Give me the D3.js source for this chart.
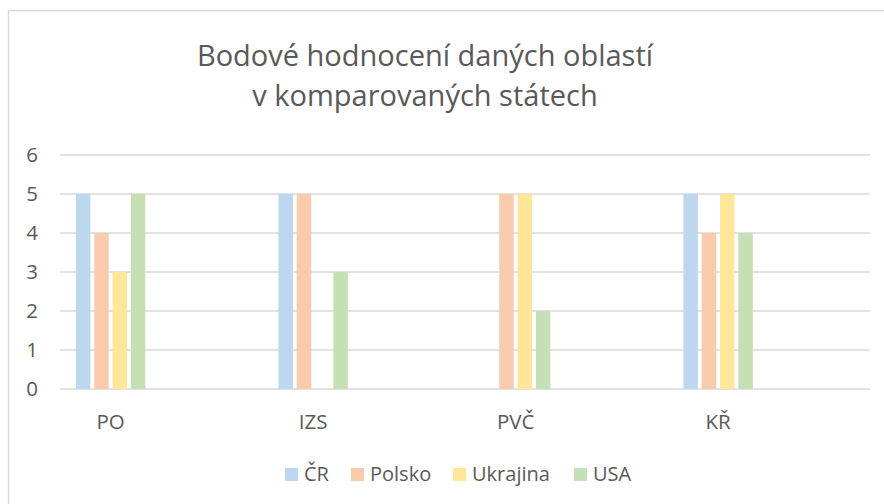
<!DOCTYPE html>
<html>
<head>
<meta charset="utf-8">
<script src="https://cdn.jsdelivr.net/npm/d3@7"></script>
<style>
  html, body { margin: 0; padding: 0; background: #fff; }
  svg { display: block; font-family: "Open Sans", "Noto Sans", sans-serif; }
</style>
</head>
<body>
<div id="chart"></div>
<script>
// Data
const categories = ["PO", "IZS", "PVČ", "KŘ"];
const seriesNames = ["ČR", "Polsko", "Ukrajina", "USA"];
const valuesCR = [5, 5, 0, 5];
const valuesPolsko = [4, 5, 5, 4];
const valuesUkrajina = [3, 0, 5, 5];
const valuesUSA = [5, 3, 2, 4];
const yTicks = [0, 1, 2, 3, 4, 5, 6];
const titleLines = ["Bodové hodnocení daných oblastí", "v komparovaných státech"];

const seriesValues = [valuesCR, valuesPolsko, valuesUkrajina, valuesUSA];
const colors = ["#BDD7EE", "#F8CBAD", "#FFE699", "#C5E0B4"];

function chart() {
    const width = 884;
    const height = 504;
    const margin = {left: 60, right: 14, top: 155, bottom: 115};

    const svg = d3.create("svg")
        .attr("width", width)
        .attr("height", height)
        .attr("viewBox", [0, 0, width, height]);

    // chart area border (runs off the right and bottom of the picture)
    svg.append("rect")
        .attr("x", 8.5).attr("y", 10.5)
        .attr("width", 1000).attr("height", 1000)
        .attr("fill", "none")
        .attr("stroke", "#d9d9d9")
        .attr("stroke-width", 1.5);

    // title, two lines
    svg.append("g")
        .attr("fill", "#595959")
        .attr("font-size", 29)
        .attr("text-anchor", "middle")
        .selectAll("text")
        .data(titleLines)
        .join("text")
        .attr("x", 425)
        .attr("y", (d, i) => 65.5 + i * 40)
        .text(d => d);

    const x = d3.scaleBand()
        .domain(categories)
        .range([margin.left, width - margin.right]);

    // each group sits in the left half of its band
    const xSub = d3.scaleBand()
        .domain(seriesNames)
        .range([0, x.bandwidth() / 2])
        .paddingInner(0.21)
        .paddingOuter(0.87);

    const y = d3.scaleLinear()
        .domain([0, 6])
        .range([height - margin.bottom, margin.top]);

    // gridlines
    svg.append("g")
        .attr("stroke", "#d9d9d9")
        .attr("stroke-width", 1.5)
        .selectAll("line")
        .data(yTicks)
        .join("line")
        .attr("x1", margin.left)
        .attr("x2", width - margin.right)
        .attr("y1", d => y(d))
        .attr("y2", d => y(d));

    // y labels
    svg.append("g")
        .attr("fill", "#595959")
        .attr("font-size", 20.5)
        .attr("text-anchor", "middle")
        .selectAll("text")
        .data(yTicks)
        .join("text")
        .attr("x", 32)
        .attr("y", d => y(d))
        .attr("dy", "0.36em")
        .text(d => d);

    // bars
    const rows = [];
    seriesNames.forEach((s, si) => {
        categories.forEach((c, ci) => {
            rows.push({series: s, cat: c, value: seriesValues[si][ci], color: colors[si]});
        });
    });

    svg.append("g")
        .selectAll("rect")
        .data(rows.filter(d => d.value > 0))
        .join("rect")
        .attr("x", d => x(d.cat) + xSub(d.series))
        .attr("y", d => y(d.value))
        .attr("width", xSub.bandwidth())
        .attr("height", d => y(0) - y(d.value))
        .attr("fill", d => d.color);

    // category labels, centered under each group
    svg.append("g")
        .attr("fill", "#595959")
        .attr("font-size", 20.5)
        .attr("text-anchor", "middle")
        .selectAll("text")
        .data(categories)
        .join("text")
        .attr("x", d => x(d) + x.bandwidth() / 4)
        .attr("y", 429)
        .text(d => d);

    // legend
    const legend = svg.append("g")
        .attr("font-size", 20)
        .attr("fill", "#595959");
    const legendX = [285, 351, 453, 574];
    const item = legend.selectAll("g")
        .data(seriesNames)
        .join("g")
        .attr("transform", (d, i) => `translate(${legendX[i]},0)`);
    item.append("rect")
        .attr("y", 468)
        .attr("width", 13)
        .attr("height", 13)
        .attr("fill", (d, i) => colors[i]);
    item.append("text")
        .attr("x", 19)
        .attr("y", 481)
        .text(d => d);

    return svg.node();
}

document.getElementById("chart").appendChild(chart());
</script>
</body>
</html>
